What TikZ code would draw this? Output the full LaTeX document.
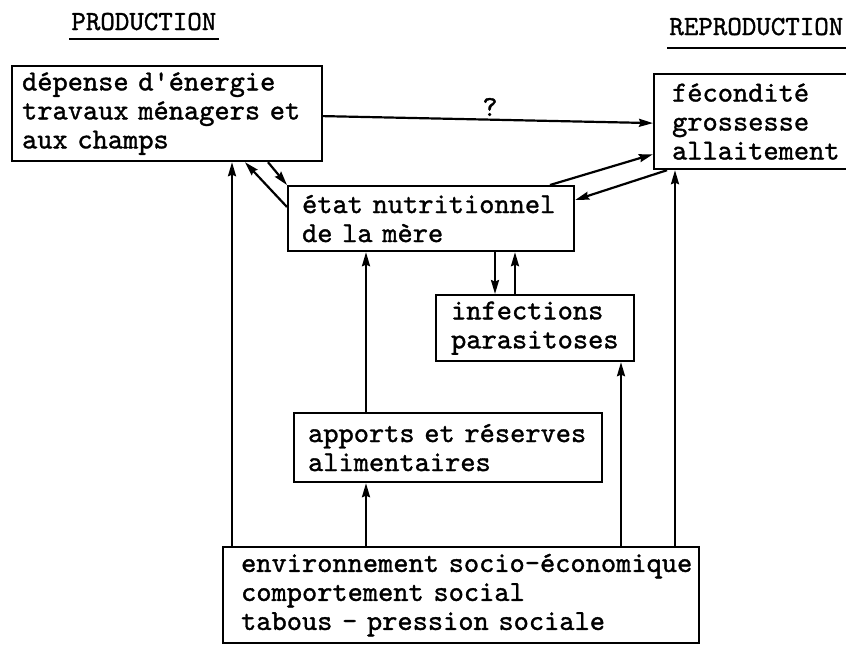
\documentclass[tikz,border=0pt]{standalone}
\usepackage{fontspec}
\newfontfamily\typewriter{lmmono10-regular.otf}[FakeBold=1.2]
\usetikzlibrary{arrows.meta}
\begin{document}
\begin{tikzpicture}[x=0.5pt,y=-0.5pt,
  every node/.style={font=\fontsize{14.5pt}{14.5pt}\selectfont\typewriter},
  box/.style={draw, line width=1.1pt, align=left, anchor=north west, inner ysep=0pt},
  arr/.style={line width=1.1pt, -{Stealth[length=7pt,width=4pt,inset=0.8pt]}},
  head/.style={inner sep=0pt, anchor=base west, font=\fontsize{13.8pt}{14pt}\selectfont\typewriter},
  uline/.style={line width=1pt}]
\useasboundingbox (0,0) rectangle (846,644);

% column headings
\node[head] (prod) at (71,30) {PRODUCTION};
\draw[uline] ([xshift=-1pt,yshift=-4.5pt]prod.base west) -- ([xshift=1pt,yshift=-4.5pt]prod.base east);
\node[head] (repr) at (669,35) {REPRODUCTION};
\draw[uline] ([xshift=-1pt,yshift=-6.5pt]repr.base west) -- ([xshift=4pt,yshift=-6.5pt]repr.base east);

% boxes
\node[box, inner xsep=5pt, text width=145pt, minimum height=47.5pt] (dep) at (11,65)
  {dépense d'énergie\\travaux ménagers et\\aux champs};
\node[box, inner xsep=9pt, text width=86pt, minimum height=47.5pt] (fec) at (653,73)
  {fécondité\\grossesse\\allaitement};
\node[box, inner xsep=7pt, text width=129pt, minimum height=32.5pt] (etat) at (287,185)
  {\mbox{état nutritionnel}\\de la mère};
\node[box, inner xsep=7.5pt, text width=84pt, minimum height=33pt] (inf) at (435,294)
  {infections\\parasitoses};
\node[box, inner xsep=7pt, text width=140pt, minimum height=34.5pt] (app) at (293,412)
  {\mbox{apports et réserves}\\alimentaires};
\node[box, inner xsep=9pt, text width=220pt, minimum height=48pt] (env) at (222,546)
  {\mbox{environnement socio-économique}\\comportement social\\tabous - pression sociale};

% x positions of the connectors
\coordinate (xa) at (232,0);
\coordinate (xb) at (366,0);
\coordinate (xc) at (495,0);
\coordinate (xd) at (515,0);
\coordinate (xe) at (621,0);
\coordinate (xf) at (675,0);
\coordinate (xg) at (268,0);
\coordinate (xh) at (245,0);
\coordinate (xi) at (550,0);
\coordinate (xj) at (667,0);

% production -> reproduction
\draw[arr] ([yshift=-1.25pt]dep.east) -- ([yshift=-0.75pt]fec.west);
\node (q) at (490,107) {?};

% production <-> nutrition
\draw[arr] (xg |- dep.south) -- (etat.north west);
\draw[arr] ([yshift=-11pt]etat.north west) -- (xh |- dep.south);

% nutrition <-> reproduction
\draw[arr] (xi |- etat.north) -- ([yshift=8pt]fec.south west);
\draw[arr] (xj |- fec.south) -- ([yshift=-7.5pt]etat.north east);

% nutrition <-> infections
\draw[arr] (xc |- etat.south) -- (xc |- inf.north);
\draw[arr] (xd |- inf.north) -- (xd |- etat.south);

% food supply
\draw[arr] (xb |- app.north) -- (xb |- etat.south);
\draw[arr] (xb |- env.north) -- (xb |- app.south);

% social environment
\draw[arr] (xa |- env.north) -- (xa |- dep.south);
\draw[arr] (xe |- env.north) -- (xe |- inf.south);
\draw[arr] (xf |- env.north) -- (xf |- fec.south);
\end{tikzpicture}
\end{document}
